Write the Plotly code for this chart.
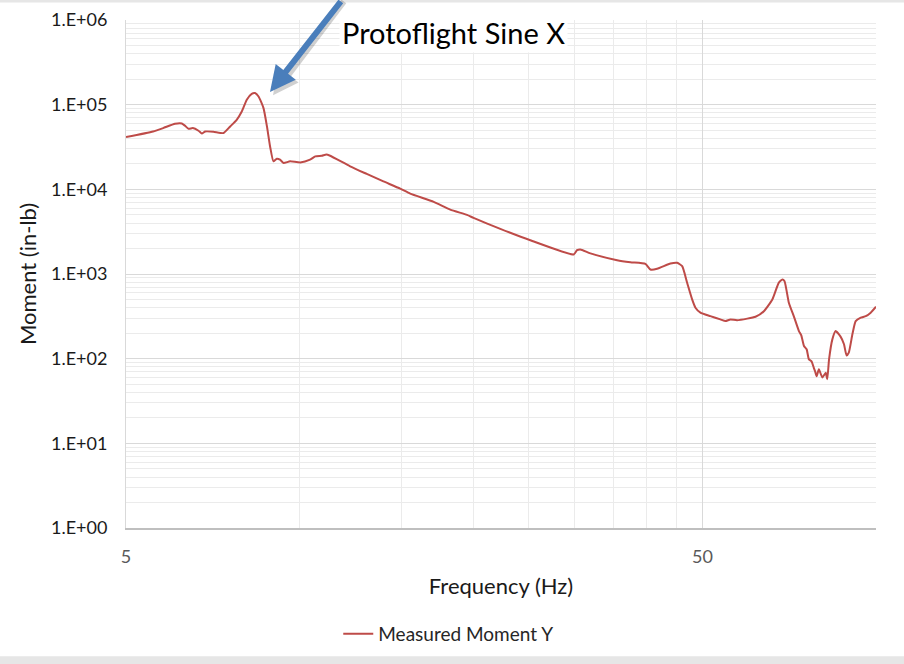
import math
import plotly.graph_objects as go

# ---------------- data ----------------
freq_hz = [5.00, 5.57, 5.80, 6.08, 6.25, 6.33, 6.42, 6.53, 6.68, 6.77,
           6.86, 7.09, 7.38, 7.58, 7.78, 7.94, 8.10, 8.26, 8.37, 8.49,
           8.66, 8.78, 8.89, 9.01, 9.13, 9.25, 9.38, 9.63, 10.03, 10.43,
           10.65, 10.93, 11.13, 11.30, 12.24, 13.08, 13.98, 14.95, 15.56, 17.09,
           18.26, 19.52, 20.04, 22.30, 25.14, 29.89, 30.30, 30.70, 31.96, 35.56,
           37.50, 39.81, 40.62, 41.72, 44.00, 45.20, 46.11, 47.03, 47.98, 48.62,
           49.60, 51.6, 53.7, 54.8, 55.9, 57.4, 59.8, 61.8, 63.9, 66.1,
           67.8, 68.8, 69.4, 70.6, 72.0, 73.5, 74.2, 75.0, 75.8, 76.5,
           77.3, 78.0, 78.4, 78.9, 79.6, 80.7, 81.8, 82.3, 82.9, 84.0,
           85.1, 86.8, 88.0, 88.9, 89.7, 91.0, 92.2, 94.1, 96.0, 97.9,
           100.0]

moment_inlb = [41400, 48300, 52900, 59500, 60000, 56300, 51900, 52900, 49200, 45700,
               48200, 47900, 46200, 55300, 66200, 83000, 114000, 134000, 137000, 125000,
               91000, 55300, 32100, 21400, 23000, 22400, 20500, 21400, 20800, 22400,
               24500, 24900, 25800, 24900, 18700, 15200, 12400, 10200, 8890, 7100,
               5750, 4990, 4600, 3410, 2500, 1700, 1910, 1950, 1750, 1456,
               1378, 1318, 1130, 1152, 1330, 1356, 1236, 787, 501, 400,
               349, 318, 291, 278, 291, 285, 297, 313, 364, 501,
               787, 861, 823, 458, 318, 212, 188, 141, 129, 98,
               93, 78, 71, 62, 75, 60, 68, 57, 98, 169,
               212, 182, 148, 109, 118, 194, 278, 305, 318, 349,
               411]

series_name = "Measured Moment Y"

y_tick_values = [1, 10, 100, 1000, 10000, 100000, 1000000]
y_tick_labels = ["1.E+00", "1.E+01", "1.E+02", "1.E+03", "1.E+04", "1.E+05", "1.E+06"]

x_tick_values = [5, 50]
x_tick_labels = ["5", "50"]
x_minor_grid = [10, 15, 20, 25, 30, 35, 40, 45, 100]

annotation_text = "Protoflight Sine X"

# ---------------- figure ----------------
FONT = "Lato, 'Open Sans', sans-serif"

fig = go.Figure()
fig.add_trace(go.Scatter(
    x=freq_hz, y=moment_inlb, mode="lines", name=series_name,
    line=dict(color="#BE4B48", width=2, shape="spline", smoothing=0.5),
))

fig.update_layout(
    width=904, height=664,
    margin=dict(l=126, r=28, t=20, b=135),
    paper_bgcolor="white", plot_bgcolor="white",
    font=dict(family=FONT, size=16, color="#404040"),
    showlegend=True,
    legend=dict(orientation="h", x=0.283, xanchor="left", y=-0.206, yanchor="middle",
                font=dict(size=19, color="#262626"), bgcolor="rgba(0,0,0,0)",
                itemwidth=30),
)

fig.update_xaxes(
    type="log", range=[math.log10(5), 2],
    tickmode="array", tickvals=x_tick_values, ticktext=x_tick_labels,
    tickfont=dict(size=18, color="#595959"), ticks="", ticklabelstandoff=12,
    showgrid=True, gridcolor="#D9D9D9", gridwidth=1,
    minor=dict(tickvals=x_minor_grid, showgrid=True, gridcolor="#EBEBEB", gridwidth=1, ticks=""),
    showline=True, linecolor="#BFBFBF", linewidth=1.5, mirror=False,
    zeroline=False, automargin=False,
    title=dict(text="Frequency (Hz)", font=dict(size=22, color="#1a1a1a"), standoff=12),
)

fig.update_yaxes(
    type="log", range=[0, 6],
    tickmode="array", tickvals=y_tick_values, ticktext=y_tick_labels,
    tickfont=dict(size=18, color="#1a1a1a"), ticks="", ticklabelstandoff=14,
    showgrid=True, gridcolor="#D9D9D9", gridwidth=1,
    minor=dict(dtick="D1", showgrid=True, gridcolor="#EBEBEB", gridwidth=1, ticks=""),
    showline=True, linecolor="#D9D9D9", linewidth=1, mirror=False,
    zeroline=False, automargin=False,
    title=dict(text="Moment (in-lb)", font=dict(size=22, color="#1a1a1a"), standoff=8),
)

# thin grey frame strips at top and bottom of the image
fig.add_shape(type="rect", xref="paper", yref="paper", x0=-0.17, x1=1.04,
              y0=1.0344, y1=1.045, fillcolor="#E6E6E6", line=dict(width=0), layer="above")
fig.add_shape(type="rect", xref="paper", yref="paper", x0=-0.17, x1=1.04,
              y0=-0.2525, y1=-0.27, fillcolor="#E6E6E6", line=dict(width=0), layer="above")

# arrow shadow + arrow
fig.add_annotation(xref="paper", yref="paper", x=0.196, y=0.852, text="",
                   showarrow=True, ax=72, ay=-100, arrowcolor="rgba(0,0,0,0.18)",
                   arrowwidth=6, arrowhead=2, arrowsize=0.85)
fig.add_annotation(xref="paper", yref="paper", x=0.192, y=0.8585, text="",
                   showarrow=True, ax=72, ay=-100, arrowcolor="#4A7EBB",
                   arrowwidth=6, arrowhead=2, arrowsize=0.85)

fig.add_annotation(xref="paper", yref="paper", x=0.436, y=0.976, text=annotation_text,
                   showarrow=False, bgcolor="white", borderpad=2,
                   font=dict(size=29, color="#000000", family=FONT),
                   xanchor="center", yanchor="middle")

fig.write_html("out.html", config={"displayModeBar": False},
               post_script="document.body.style.margin='0px';")
